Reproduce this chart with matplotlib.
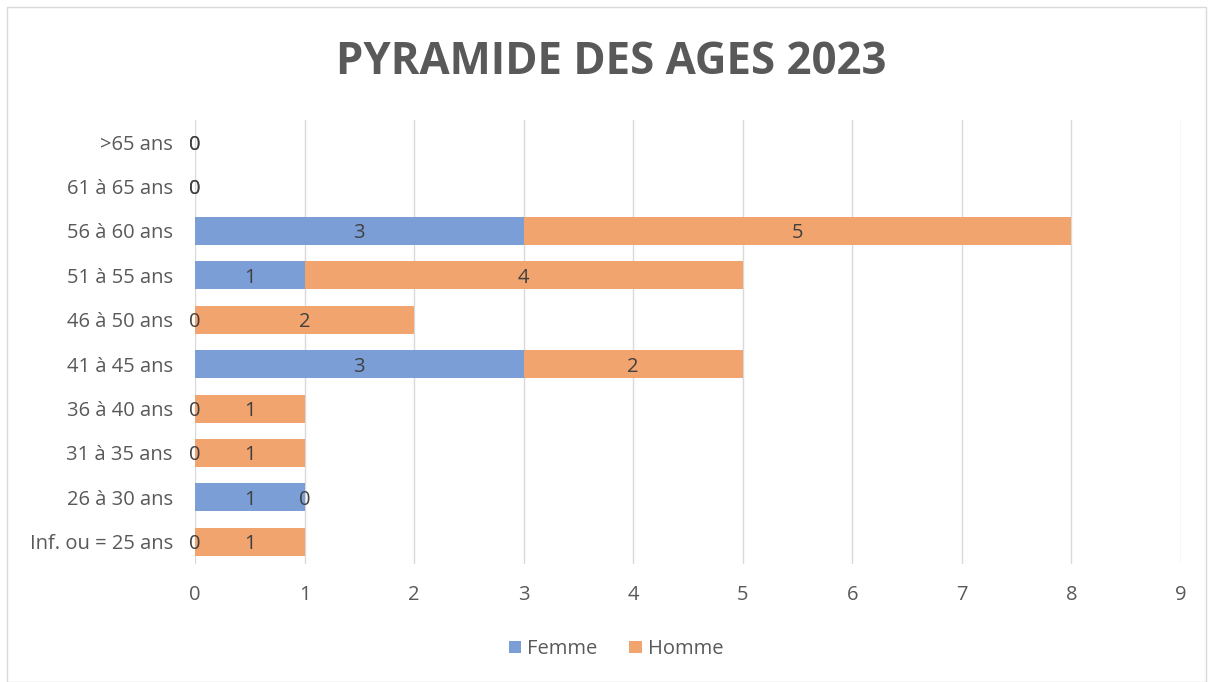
import numpy as np
import matplotlib.pyplot as plt
from matplotlib.patches import Rectangle

plt.rcParams['font.family'] = ['Open Sans', 'DejaVu Sans']

categories = ['Inf. ou = 25 ans', '26 à 30 ans', '31 à 35 ans', '36 à 40 ans',
              '41 à 45 ans', '46 à 50 ans', '51 à 55 ans', '56 à 60 ans',
              '61 à 65 ans', '>65 ans']
femme = [0, 1, 0, 0, 3, 0, 1, 3, 0, 0]
homme = [1, 0, 1, 1, 2, 2, 4, 5, 0, 0]
xticks = list(range(0, 10))

COLOR_F = '#7C9ED7'
COLOR_H = '#F2A46F'
TEXT = '#595959'
FS = 14.5

fig = plt.figure(figsize=(12.13, 6.82), dpi=100)
ax = fig.add_axes([195 / 1213, 1 - 564 / 682, (1181 - 195) / 1213, (564 - 120) / 682])

y = np.arange(len(categories))
f = np.array(femme)
h = np.array(homme)
bf = ax.barh(y, f, height=0.63, color=COLOR_F, label='Femme', zorder=3)
bh = ax.barh(y, h, left=f, height=0.63, color=COLOR_H, label='Homme', zorder=3)

for yi, fv, hv in zip(y, f, h):
    ax.text(fv / 2, yi, str(fv), ha='center', va='center_baseline', fontsize=FS,
            color='#404040', zorder=4)
    ax.text(fv + hv / 2, yi, str(hv), ha='center', va='center_baseline', fontsize=FS,
            color='#404040', zorder=4)

ax.set_xlim(0, 9)
ax.set_ylim(-0.5, len(categories) - 0.5)
ax.set_xticks(xticks)
ax.set_yticks(y)
ax.set_yticklabels(categories)
ax.tick_params(axis='both', length=0, labelsize=FS, labelcolor=TEXT)
ax.tick_params(axis='x', pad=15)
ax.tick_params(axis='y', pad=16)
ax.grid(axis='x', color='#D9D9D9', linewidth=1, zorder=0)
for s in ax.spines.values():
    s.set_visible(False)

fig.text(611 / 1213, 1 - 62 / 682, 'PYRAMIDE DES AGES 2023', ha='center', va='center',
         fontsize=31.5, fontweight='bold', color=TEXT)

leg = fig.legend(handles=[bf, bh], loc='center', bbox_to_anchor=(616 / 1213, 1 - 649 / 682),
                 ncol=2, frameon=False, fontsize=FS, handlelength=0.6, handleheight=0.6,
                 handletextpad=0.3, columnspacing=1.6)
for t in leg.get_texts():
    t.set_color(TEXT)

fig.patches.append(Rectangle((7 / 1213, 0), 1 - 14 / 1213, 1 - 7 / 682, transform=fig.transFigure,
                             fill=False, edgecolor='#D9D9D9', linewidth=1))

fig.savefig('out.png', dpi=100)
